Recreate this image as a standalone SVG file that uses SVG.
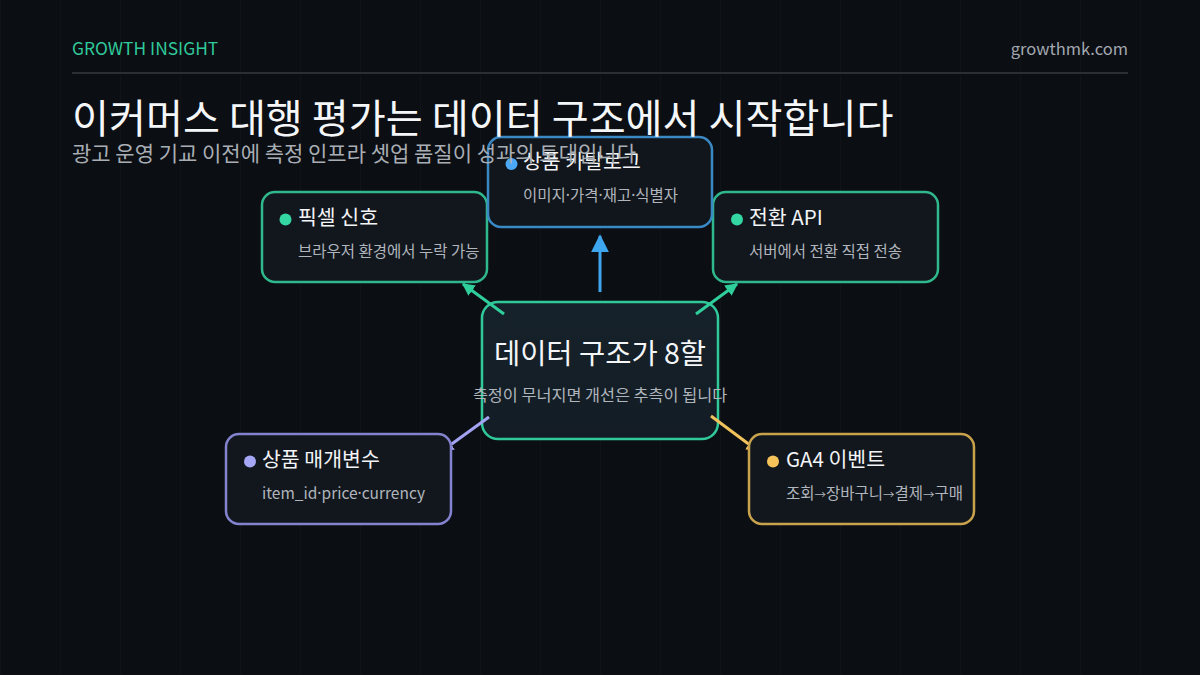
<svg xmlns="http://www.w3.org/2000/svg" width="1200" height="675" viewBox="0 0 1200 675">
  <defs>
    <style>
      text { font-family: "Noto Sans CJK KR", "Noto Sans", sans-serif; }
      .dot { font-family: "Noto Sans", sans-serif; }
      .arr { font-size: 11.5px; }
      .brand { font-size: 17.4px; fill: #2fc99a; }
      .site { font-size: 16.5px; fill: #a3a8b0; }
      .title { font-size: 40.2px; fill: #f4f6f8; }
      .subtitle { font-size: 21px; fill: #a9aeb5; }
      .box { fill: #12171e; stroke-width: 2.5; }
      .ntitle { font-size: 20.5px; fill: #f2f4f6; }
      .nsub { font-size: 15.5px; fill: #b0b5bc; }
      .ctitle { font-size: 28.5px; fill: #f4f6f8; text-anchor: middle; }
      .csub { font-size: 16.3px; fill: #b0b5bc; text-anchor: middle; }
      .conn { stroke-width: 3; fill: none; stroke-linecap: butt; }
    </style>
    <pattern id="grid" width="60" height="60" patternUnits="userSpaceOnUse">
      <rect x="0" y="0" width="1" height="60" fill="#ffffff" fill-opacity="0.018"/>
    </pattern>
    <linearGradient id="cfill" x1="0" y1="0" x2="0" y2="1">
      <stop offset="0" stop-color="#16222b"/>
      <stop offset="1" stop-color="#131c24"/>
    </linearGradient>
    <marker id="mGreen" viewBox="0 0 10 10" refX="9" refY="5" markerWidth="4.2" markerHeight="4.2" orient="auto">
      <path d="M0,0 L10,5 L0,10 z" fill="#2fcf9c"/>
    </marker>
    <marker id="mBlue" viewBox="0 0 10 10" refX="9" refY="5" markerWidth="6" markerHeight="6" orient="auto">
      <path d="M0,0 L10,5 L0,10 z" fill="#3ea6ee"/>
    </marker>
    <marker id="mPurple" viewBox="0 0 10 10" refX="9" refY="5" markerWidth="4.2" markerHeight="4.2" orient="auto">
      <path d="M0,0 L10,5 L0,10 z" fill="#a3a3f2"/>
    </marker>
    <marker id="mGold" viewBox="0 0 10 10" refX="9" refY="5" markerWidth="4.2" markerHeight="4.2" orient="auto">
      <path d="M0,0 L10,5 L0,10 z" fill="#f0c25c"/>
    </marker>
  </defs>

  <rect x="0" y="0" width="1200" height="675" fill="#0b0e13"/>
  <rect x="0" y="0" width="1200" height="675" fill="url(#grid)"/>

  <g id="header">
    <text class="brand" x="72" y="55">GROWTH INSIGHT</text>
    <text class="site" x="1128" y="55" text-anchor="end">growthmk.com</text>
    <rect x="72" y="72" width="1056" height="2" fill="#2a2e35"/>
  </g>

  <g id="node-center">
    <rect x="482" y="302" width="236" height="137" rx="16" fill="url(#cfill)" stroke="#2fc99a" stroke-width="2.5"/>
    <text class="ctitle" x="600" y="364">데이터 구조가 8할</text>
    <text class="csub" x="600" y="401">측정이 무너지면 개선은 추측이 됩니다</text>
  </g>

  <g id="connectors">
    <line class="conn" x1="600" y1="292" x2="600" y2="236" stroke="#3ea6ee" marker-end="url(#mBlue)"/>
    <line class="conn" x1="504" y1="314" x2="463" y2="284" stroke="#2fcf9c" marker-end="url(#mGreen)"/>
    <line class="conn" x1="696" y1="314" x2="737" y2="284" stroke="#2fcf9c" marker-end="url(#mGreen)"/>
    <line class="conn" x1="489" y1="417" x2="442" y2="451" stroke="#a3a3f2" marker-end="url(#mPurple)"/>
    <line class="conn" x1="711" y1="416" x2="758" y2="451" stroke="#f0c25c" marker-end="url(#mGold)"/>
  </g>

  <g id="node-pixel">
    <rect class="box" x="262" y="192" width="225" height="90" rx="13" stroke="#2fb88c"/>
    <circle cx="285.5" cy="219.5" r="6" fill="#34d6a2"/>
    <text class="ntitle" x="298" y="225">픽셀 신호</text>
    <text class="nsub" x="298" y="257">브라우저 환경에서 누락 가능</text>
  </g>

  <g id="node-api">
    <rect class="box" x="713" y="192" width="225" height="90" rx="13" stroke="#2fb88c"/>
    <circle cx="737" cy="219.5" r="6" fill="#34d6a2"/>
    <text class="ntitle" x="749" y="225">전환 API</text>
    <text class="nsub" x="749" y="257">서버에서 전환 직접 전송</text>
  </g>

  <g id="node-params">
    <rect class="box" x="226" y="434" width="225" height="90" rx="13" stroke="#8483d0"/>
    <circle cx="250" cy="461.5" r="6" fill="#a5a7f5"/>
    <text class="ntitle" x="262" y="467">상품 매개변수</text>
    <text class="nsub" x="262" y="499">item_id<tspan class="dot">·</tspan>price<tspan class="dot">·</tspan>currency</text>
  </g>

  <g id="node-ga4">
    <rect class="box" x="749" y="434" width="225" height="90" rx="13" stroke="#c9a24c"/>
    <circle cx="773" cy="461.5" r="6" fill="#f5c35a"/>
    <text class="ntitle" x="786" y="467">GA4 이벤트</text>
    <text class="nsub" x="786" y="499">조회<tspan class="arr">→</tspan>장바구니<tspan class="arr">→</tspan>결제<tspan class="arr">→</tspan>구매</text>
  </g>

  <g id="node-catalog">
    <rect class="box" x="488" y="137" width="224" height="90" rx="13" stroke="#3a88c4" fill-opacity="0.9"/>
    <circle cx="511.5" cy="164" r="6" fill="#4aa8f5"/>
    <text class="ntitle" x="523" y="169">상품 카탈로그</text>
    <text class="nsub" x="523" y="201">이미지<tspan class="dot">·</tspan>가격<tspan class="dot">·</tspan>재고<tspan class="dot">·</tspan>식별자</text>
  </g>

  <g id="titles">
    <text class="title" x="72" y="133">이커머스 대행 평가는 데이터 구조에서 시작합니다</text>
    <text class="subtitle" x="72" y="161">광고 운영 기교 이전에 측정 인프라 셋업 품질이 성과의 토대입니다</text>
  </g>
</svg>
